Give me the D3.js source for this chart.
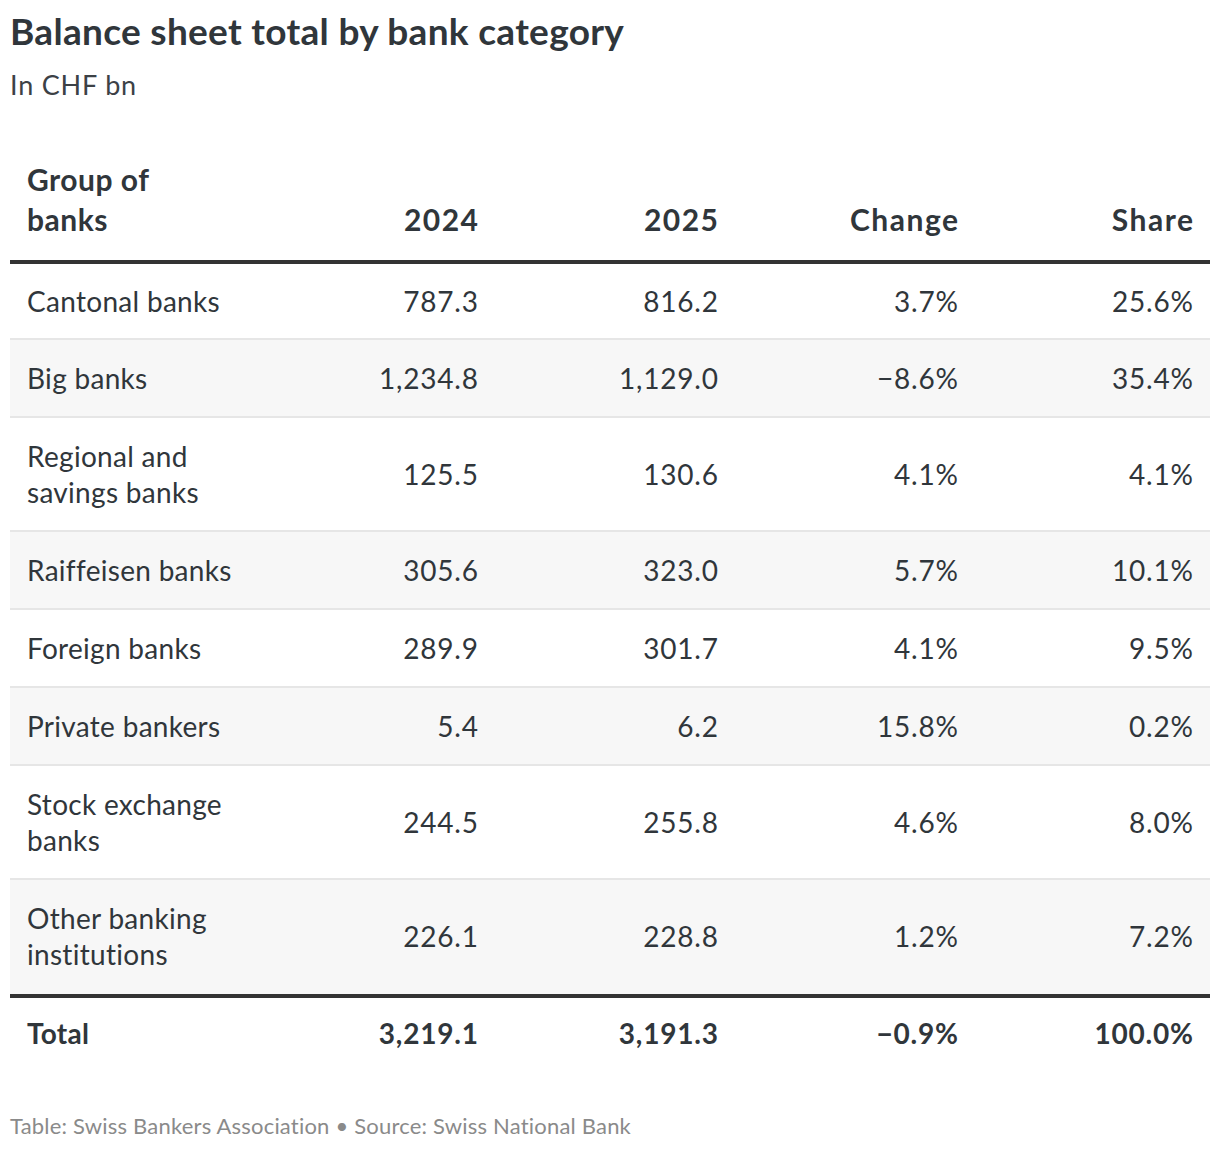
<!DOCTYPE html>
<html>
<head>
<meta charset="utf-8">
<script src="https://cdn.jsdelivr.net/npm/d3@7"></script>
<style>
  body { margin: 0; background: #fff; }
  svg text { font-family: Lato, "Noto Sans", sans-serif; fill: #30363b; }
</style>
</head>
<body>
<svg id="chart" width="1220" height="1152"></svg>
<script>
// table data
var columns = ["Group of banks", "2024", "2025", "Change", "Share"];
var groups = ["Cantonal banks", "Big banks", "Regional and savings banks", "Raiffeisen banks",
    "Foreign banks", "Private bankers", "Stock exchange banks", "Other banking institutions"];
var values2024 = [787.3, 1234.8, 125.5, 305.6, 289.9, 5.4, 244.5, 226.1];
var values2025 = [816.2, 1129.0, 130.6, 323.0, 301.7, 6.2, 255.8, 228.8];
var change = [3.7, -8.6, 4.1, 5.7, 4.1, 15.8, 4.6, 1.2];
var share = [25.6, 35.4, 4.1, 10.1, 9.5, 0.2, 8.0, 7.2];
var total = {label: "Total", v2024: 3219.1, v2025: 3191.3, change: -0.9, share: 100.0};

var svg = d3.select("#chart");
var left = 10, right = 1210;
var textLeft = 27;
var fmtNum = d3.format(",.1f");
var fmtPct = function(v){ return d3.format(".1f")(v).replace("-", "\u2212") + "%"; };

// right edges of numeric columns
var colX = d3.scaleOrdinal()
    .domain(["2024", "2025", "Change", "Share"])
    .range([478, 718, 958, 1193]);

// title + subtitle
svg.append("text").attr("x", 10).attr("y", 45)
    .style("font-size", "37px").style("font-weight", "bold")
    .style("letter-spacing", "0.3px")
    .text("Balance sheet total by bank category");
svg.append("text").attr("x", 10).attr("y", 95)
    .style("font-size", "27px").style("fill", "#3c4146")
    .style("letter-spacing", "0.8px")
    .text("In CHF bn");

// header
var headerBottom = 260;
var head = svg.append("g").style("font-size", "30px").style("font-weight", "bold");
head.append("text").attr("x", textLeft).attr("y", 191).style("letter-spacing", "0.5px").text("Group of");
head.append("text").attr("x", textLeft).attr("y", 231).style("letter-spacing", "0.5px").text("banks");
columns.slice(1).forEach(function(c){
    head.append("text").attr("x", colX(c) + 1.5).attr("y", 231)
        .attr("text-anchor", "end").style("letter-spacing", "1.5px").text(c);
});
svg.append("rect").attr("x", left).attr("y", headerBottom)
    .attr("width", right - left).attr("height", 4).attr("fill", "#333");

// wrap the first column labels
var measure = svg.append("text").style("font-size", "28px").style("letter-spacing", "0.3px");
function wrap(label, maxW){
    var words = label.split(" "), lines = [], cur = "";
    words.forEach(function(w){
        var test = cur ? cur + " " + w : w;
        measure.text(test);
        if (cur && measure.node().getComputedTextLength() > maxW) {
            lines.push(cur); cur = w;
        } else cur = test;
    });
    lines.push(cur);
    return lines;
}

var lineH = 36, pad = 21;
var rows = groups.map(function(g, i){
    return {label: g, lines: wrap(g, 235), v2024: values2024[i], v2025: values2025[i],
        change: change[i], share: share[i], i: i};
});
measure.remove();

var y = headerBottom + 4;
rows.forEach(function(r){
    r.y0 = y;
    r.h = r.lines.length * lineH + pad * 2 - (r.i === 0 ? 2 : 0);
    y += r.h;
});

var body = svg.append("g");
var rowG = body.selectAll("g.row").data(rows).enter().append("g").attr("class", "row");

rowG.append("rect")
    .attr("x", left).attr("y", function(d){ return d.y0; })
    .attr("width", right - left).attr("height", function(d){ return d.h; })
    .attr("fill", function(d){ return d.i % 2 ? "#f7f7f7" : "#fff"; });

rowG.filter(function(d){ return d.i < rows.length - 1; }).append("rect")
    .attr("x", left).attr("y", function(d){ return d.y0 + d.h - 2; })
    .attr("width", right - left).attr("height", 2).attr("fill", "#e6e6e6");

function cellsOf(d){
    return [
        {c: "2024", t: fmtNum(d.v2024)},
        {c: "2025", t: fmtNum(d.v2025)},
        {c: "Change", t: fmtPct(d.change)},
        {c: "Share", t: fmtPct(d.share)}
    ];
}

rowG.each(function(d){
    var g = d3.select(this);
    var mid = d.y0 + d.h / 2;
    var first = mid - (d.lines.length - 1) * lineH / 2;
    g.selectAll("text.lbl").data(d.lines).enter().append("text")
        .attr("class", "lbl")
        .attr("x", textLeft)
        .attr("y", function(l, k){ return first + k * lineH; })
        .attr("dy", "0.35em")
        .style("font-size", "28px").style("letter-spacing", "0.3px")
        .text(function(l){ return l; });
    g.selectAll("text.num").data(cellsOf(d)).enter().append("text")
        .attr("class", "num")
        .attr("x", function(c){ return colX(c.c) + 0.8; })
        .attr("y", mid).attr("dy", "0.35em")
        .attr("text-anchor", "end")
        .style("font-size", "28px").style("letter-spacing", "0.8px")
        .text(function(c){ return c.t; });
});

// total
var totalTop = y;
svg.append("rect").attr("x", left).attr("y", totalTop)
    .attr("width", right - left).attr("height", 4).attr("fill", "#333");
var tMid = totalTop + 40;
var tg = svg.append("g").style("font-size", "28px").style("font-weight", "bold");
tg.append("text").attr("x", textLeft).attr("y", tMid).attr("dy", "0.35em")
    .style("letter-spacing", "0.3px").text(total.label);
tg.selectAll("text.num").data(cellsOf(total)).enter().append("text")
    .attr("class", "num")
    .attr("x", function(c){ return colX(c.c) + 0.8; })
    .attr("y", tMid).attr("dy", "0.35em")
    .attr("text-anchor", "end").style("letter-spacing", "0.8px")
    .text(function(c){ return c.t; });

// footer
svg.append("text").attr("x", 10).attr("y", 1134)
    .style("font-size", "22px").style("fill", "#8a8a8a")
    .style("letter-spacing", "0.2px")
    .text("Table: Swiss Bankers Association \u2022 Source: Swiss National Bank");
</script>
</body>
</html>
